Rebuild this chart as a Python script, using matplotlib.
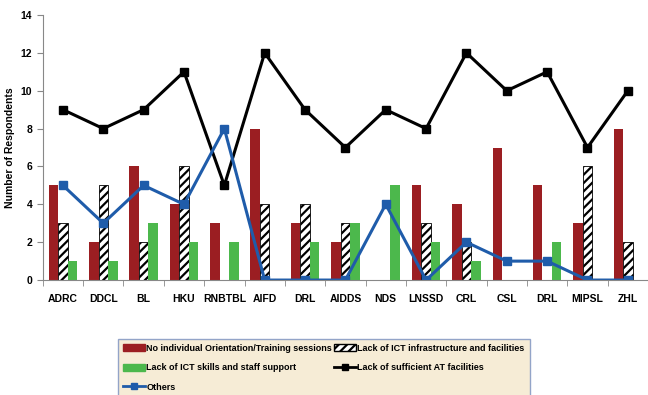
import numpy as np
import matplotlib.pyplot as plt
from matplotlib.lines import Line2D
from matplotlib.patches import Patch

libraries = ["ADRC", "DDCL", "BL", "HKU", "RNBTBL", "AIFD", "DRL", "AIDDS",
             "NDS", "LNSSD", "CRL", "CSL", "DRL", "MIPSL", "ZHL"]
no_orientation = [5, 2, 6, 4, 3, 8, 3, 2, 0, 5, 4, 7, 5, 3, 8]
lack_ict_infra = [3, 5, 2, 6, 0, 4, 4, 3, 0, 3, 2, 0, 0, 6, 2]
lack_ict_skills = [1, 1, 3, 2, 2, 0, 2, 3, 5, 2, 1, 0, 2, 0, 0]
lack_at = [9, 8, 9, 11, 5, 12, 9, 7, 9, 8, 12, 10, 11, 7, 10]
others = [5, 3, 5, 4, 8, 0, 0, 0, 4, 0, 2, 1, 1, 0, 0]

plt.rcParams['font.family'] = ['Liberation Sans', 'DejaVu Sans']
plt.rcParams['hatch.linewidth'] = 1.6

fig = plt.figure(figsize=(6.48, 3.95), dpi=100)
ax = fig.add_axes([0.066, 0.291, 0.934, 0.671])

x = np.arange(len(libraries))
w = 0.235
ax.bar(x - w, no_orientation, w, color="#9b1e22")
ax.bar(x, lack_ict_infra, w, color="white", edgecolor="black", hatch="////", linewidth=0.6)
ax.bar(x + w, lack_ict_skills, w, color="#4cb84c")
ax.plot(x, lack_at, color="black", lw=2.2, marker="s", ms=6)
ax.plot(x, others, color="#1f5caa", lw=2.2, marker="s", ms=6)

ax.set_xlim(-0.5, len(libraries) - 0.5)
ax.set_ylim(0, 14)
ax.set_yticks(range(0, 15, 2))
ax.set_xticks(x)
ax.set_xticklabels(libraries, fontsize=7.5, fontweight="bold")
ax.set_xticks(np.arange(-0.5, len(libraries)), minor=True)
ax.tick_params(axis="x", which="major", length=0, pad=10)
ax.tick_params(axis="x", which="minor", length=4, color="#888888")
ax.tick_params(axis="y", labelsize=7.5, length=4, color="#888888")
for lab in ax.get_yticklabels():
    lab.set_fontweight("bold")
ax.set_ylabel("Number of Respondents", fontsize=7.5, fontweight="bold", labelpad=4)
for s in ["top", "right"]:
    ax.spines[s].set_visible(False)
ax.spines["left"].set_color("#888888")
ax.spines["bottom"].set_color("#888888")

# legend fills column by column: left column red/green/blue, right column hatch/black
handles = [
    Patch(color="#9b1e22", label="No individual Orientation/Training sessions"),
    Patch(color="#4cb84c", label="Lack of ICT skills and staff support"),
    Line2D([], [], color="#1f5caa", lw=2, marker="s", ms=4, label="Others"),
    Patch(facecolor="white", edgecolor="black", hatch="////", label="Lack of ICT infrastructure and facilities"),
    Line2D([], [], color="black", lw=2, marker="s", ms=4, label="Lack of sufficient AT facilities"),
]
leg = fig.legend(handles=handles, ncol=2, loc="upper left",
                 bbox_to_anchor=(0.182, 0.142),
                 prop={"weight": "bold", "size": 6.5},
                 frameon=True, fancybox=False, borderaxespad=0,
                 handlelength=2.4, handleheight=0.8, columnspacing=0.2,
                 labelspacing=1.15, handletextpad=0.2, borderpad=0.55)
leg.get_frame().set_facecolor("#f4e8cc")
leg.get_frame().set_edgecolor("#7a90c0")

fig.savefig("out.png", dpi=100)
